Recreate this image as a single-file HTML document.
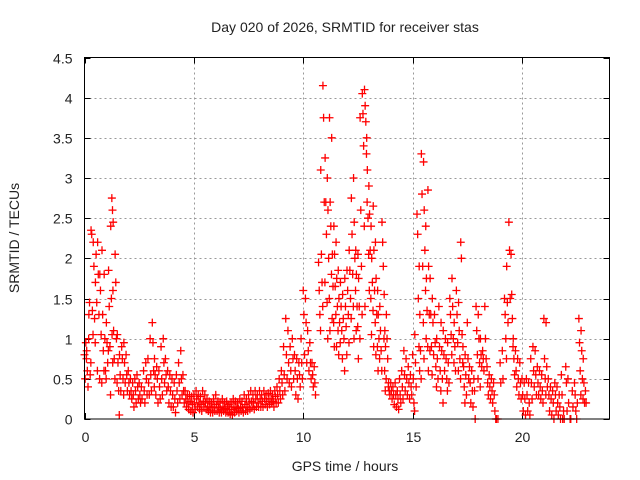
<!DOCTYPE html>
<html><head><meta charset="utf-8"><style>
html,body{margin:0;padding:0;background:#fff;}
svg{display:block;font-family:"Liberation Sans",sans-serif;}
</style></head><body>
<svg id="chart" width="640" height="480">
<text x="345" y="32" text-anchor="middle" font-size="14" fill="#222">Day 020 of 2026, SRMTID for receiver stas</text>
<text x="345" y="471" text-anchor="middle" font-size="14" fill="#222">GPS time / hours</text>
<text x="19" y="238" text-anchor="middle" font-size="14" fill="#222" transform="rotate(-90 19 238)">SRMTID / TECUs</text>
<g id="grid"></g>
<g id="ticks"></g>
<g id="pts"></g>
<rect x="84.5" y="57.5" width="525" height="361.5" fill="none" stroke="#000" stroke-width="1"/>
</svg>
<script>
const xTicks=[0,5,10,15,20];
const yTicks=[0,0.5,1,1.5,2,2.5,3,3.5,4,4.5];
const yTickLabels=["0","0.5","1","1.5","2","2.5","3","3.5","4","4.5"];
const hours=[0.0,0.1,0.2,0.3,0.4,0.5,0.6,0.7,0.8,0.9,1.0,1.1,1.2,1.25,1.3,1.4,1.5,1.6,1.7,1.8,1.9,2.0,2.1,2.2,2.3,2.4,2.5,2.6,2.7,2.8,2.9,3.0,3.1,3.2,3.3,3.4,3.5,3.6,3.7,3.8,3.9,4.0,4.1,4.2,4.3,4.4,4.5,4.6,4.7,4.8,4.9,5.0,5.1,5.2,5.3,5.4,5.5,5.6,5.7,5.8,5.9,6.0,6.1,6.2,6.3,6.4,6.5,6.6,6.7,6.8,6.9,7.0,7.1,7.2,7.3,7.4,7.5,7.6,7.7,7.8,7.9,8.0,8.1,8.2,8.3,8.4,8.5,8.6,8.7,8.8,8.9,9.0,9.1,9.2,9.3,9.4,9.5,9.6,9.7,9.8,9.9,10.0,10.1,10.2,10.3,10.4,10.5,10.7,10.8,10.9,11.0,11.1,11.2,11.3,11.4,11.5,11.6,11.7,11.8,11.9,12.0,12.1,12.2,12.3,12.4,12.5,12.6,12.7,12.8,12.9,13.0,13.1,13.2,13.3,13.4,13.5,13.6,13.7,13.8,13.9,14.0,14.1,14.2,14.3,14.4,14.5,14.6,14.7,14.8,14.9,15.0,15.1,15.2,15.3,15.4,15.5,15.6,15.7,15.8,15.9,16.0,16.1,16.2,16.3,16.4,16.5,16.6,16.7,16.8,16.9,17.0,17.1,17.2,17.3,17.4,17.5,17.6,17.7,17.8,17.9,18.0,18.1,18.2,18.3,18.4,18.5,18.6,18.7,18.8,18.9,19.0,19.1,19.2,19.3,19.4,19.5,19.6,19.7,19.8,19.9,20.0,20.1,20.2,20.3,20.4,20.5,20.6,20.7,20.8,20.9,21.0,21.1,21.2,21.3,21.4,21.5,21.6,21.7,21.8,21.9,22.0,22.1,22.2,22.3,22.4,22.5,22.6,22.7,22.8,22.9];
const tecu=[[0.8,0.5,0.95,0.75],[0.85,0.6,0.4,1.0],[1.3,1.45,0.55,0.7],[2.35,2.3,1.35,1.05],[2.2,1.9,1.25,0.95],[1.7,2.05,1.45,0.6],[2.2,1.8,1.3,0.5],[1.8,1.6,1.05,0.45],[2.1,1.3,0.85,0.6],[1.8,1.0,0.6,0.5],[1.2,0.95,0.7,0.85],[1.85,1.4,0.9,0.3],[2.4,1.5,1.05,0.7],[2.75,2.6,2.45],[1.6,1.1,0.75,0.5],[2.05,1.7,1.0,0.45],[1.05,0.7,0.35,0.05],[0.8,0.55,0.35],[0.9,0.75,0.5,0.3],[0.95,0.7,0.45],[0.8,0.55,0.35],[0.6,0.45,0.3],[0.5,0.35,0.25],[0.45,0.3,0.15],[0.5,0.35,0.2],[0.55,0.4,0.25],[0.45,0.3,0.2],[0.4,0.25],[0.6,0.35,0.2],[0.7,0.5,0.3],[0.75,0.45,0.3],[1.0,0.55,0.35],[1.2,0.95,0.6,0.4],[0.75,0.55,0.3],[0.65,0.5,0.2],[0.6,0.4,0.25],[0.9,0.5,0.3],[1.0,0.7,0.45],[0.75,0.55,0.35],[0.6,0.4,0.2],[0.55,0.35,0.15],[0.5,0.3,0.15],[0.45,0.25,0.08],[0.55,0.35,0.2],[0.7,0.45,0.25],[0.85,0.5,0.3],[0.55,0.35,0.2],[0.35,0.25,0.15],[0.3,0.2,0.12],[0.3,0.22,0.1],[0.28,0.18,0.08],[0.3,0.2,0.12],[0.35,0.25,0.15],[0.3,0.2,0.12],[0.28,0.18,0.1],[0.35,0.22,0.15],[0.3,0.2,0.12],[0.25,0.15,0.1],[0.22,0.15,0.08],[0.2,0.14,0.08],[0.25,0.15,0.1],[0.3,0.18,0.1],[0.22,0.14,0.08],[0.2,0.12,0.08],[0.25,0.15,0.1],[0.2,0.13,0.08],[0.22,0.15,0.08],[0.18,0.12,0.06],[0.2,0.12,0.05],[0.25,0.15,0.08],[0.22,0.14,0.1],[0.2,0.13,0.08],[0.25,0.15,0.1],[0.22,0.14,0.08],[0.3,0.18,0.1],[0.25,0.15,0.1],[0.3,0.2,0.12],[0.35,0.22,0.14],[0.3,0.2,0.12],[0.35,0.25,0.15],[0.3,0.2,0.15],[0.35,0.25,0.15],[0.3,0.22,0.15],[0.35,0.25,0.18],[0.3,0.22,0.15],[0.32,0.25,0.18],[0.35,0.25,0.2],[0.3,0.22,0.15],[0.35,0.28,0.2],[0.4,0.3,0.2],[0.5,0.35,0.25],[0.6,0.45,0.3],[0.9,0.55,0.35],[1.25,0.8,0.5],[1.1,0.7,0.45],[0.9,0.6,0.4],[1.0,0.75,0.5],[0.8,0.6,0.3],[0.75,0.5,0.25],[0.7,0.55,0.4],[1.0,0.7,0.5],[1.6,1.3,0.8],[1.5,1.2,0.7],[1.1,0.85,0.6],[0.95,0.7,0.5],[0.7,0.55,0.4],[0.65,0.45,0.3],[1.95,1.6,1.3,1.1],[3.1,2.05,1.7,1.4],[4.15,3.75,2.7,1.7],[3.25,2.7,2.3,1.45,1.0],[3.0,2.6,2.0,1.5,1.1],[3.75,2.7,2.4,1.8,1.25],[3.5,2.05,1.65,1.2,0.9],[2.4,2.05,1.65,1.3,0.9],[2.2,1.75,1.4,1.1,0.8],[1.85,1.5,1.2,0.95],[1.7,1.4,1.1,0.75],[1.55,1.25,1.0,0.6],[1.75,1.4,1.15,0.8],[1.85,1.6,1.3,0.95],[2.1,1.85,1.5,1.25],[2.75,2.3,1.8,1.4,1.0],[3.0,2.45,2.0,1.6,1.1],[2.1,1.8,1.4,1.15,0.75],[2.05,1.75,1.4,1.0],[3.75,2.6,1.9,1.3],[4.05,3.8,3.4,2.4,1.4],[4.1,3.9,3.7,3.3,2.7],[3.5,3.1,2.5,2.05,1.6],[2.9,2.55,2.1,1.5,1.05],[2.4,2.0,1.7,1.35,0.9],[2.65,2.1,1.6,1.2,0.8],[2.2,1.75,1.3,0.9,0.6],[1.6,1.3,1.0,0.75],[1.4,1.1,0.85,0.6],[2.45,2.2,1.9,1.0,0.6,0.35],[1.55,1.1,0.9,0.5],[1.3,1.0,0.75,0.4],[0.45,0.35,0.3],[0.45,0.35,0.25],[0.4,0.3,0.18],[0.45,0.3,0.15],[0.35,0.25,0.12],[0.5,0.3,0.2],[0.6,0.4,0.25],[0.85,0.55,0.35],[0.75,0.5,0.3],[0.65,0.45,0.25],[0.55,0.4,0.3],[0.8,0.5,0.2,0.1],[1.05,0.7,0.4],[2.55,2.3,1.5,0.9,0.6],[1.9,1.3,0.85,0.5],[3.3,2.8,1.9,1.2,0.75],[3.2,2.6,2.1,1.6,1.0],[2.4,1.75,1.35,0.9,0.6],[2.85,1.9,1.3,0.85],[1.75,1.3,0.9,0.55],[1.5,1.2,0.8],[1.3,0.95,0.65,0.4],[1.0,0.75,0.5],[1.4,0.9,0.6,0.35],[1.2,0.85,0.5,0.2],[1.1,0.8,0.6],[1.0,0.75,0.5,0.35],[0.95,0.7,0.45],[1.5,1.3,1.05,0.8],[1.75,1.4,1.0,0.7],[1.2,0.9,0.6],[1.6,1.3,0.95,0.6],[1.45,1.1,0.75,0.5],[2.2,2.0,1.05,0.7],[0.9,0.65,0.4,0.2],[0.8,0.55,0.3],[1.2,0.75,0.5],[0.65,0.45,0.2],[0.6,0.35,0.15],[0.5,0.35,0.0],[1.4,1.1,0.8,0.5],[1.3,1.0,0.7,0.4],[1.0,0.8,0.65],[0.85,0.75,0.6],[1.4,1.0,0.75],[0.65,0.45,0.3],[0.55,0.4,0.25],[0.5,0.35,0.2],[0.45,0.3,0.1],[0.0,0.0],[0.0],[0.7,0.45],[0.85,0.5],[1.5,1.3,1.0,0.75],[1.9,1.45,1.2],[2.45,2.1,1.5],[2.05,1.55,1.25,0.9],[1.0,0.75,0.55],[0.85,0.6,0.4],[0.75,0.5,0.3],[0.7,0.45,0.25],[0.5,0.3,0.1],[0.45,0.25,0.05],[0.5,0.3,0.1],[0.45,0.2,0.05],[0.75,0.45,0.25],[0.9,0.6,0.4],[0.85,0.55,0.3],[0.65,0.45,0.3],[0.6,0.4,0.25],[0.55,0.35,0.2],[1.25,0.75,0.5,0.3],[1.2,0.65,0.4],[0.5,0.3,0.1],[0.4,0.25,0.05],[0.35,0.2,0.0],[0.45,0.3,0.1],[0.4,0.2,0.05],[0.3,0.15,0.0],[0.55,0.3,0.0],[0.1,0.0],[0.65,0.45,0.1],[0.5,0.2],[0.0,0.0],[0.35,0.15],[0.45,0.3,0.1],[0.0,0.2],[1.25,0.95,0.6,0.3],[1.1,0.85,0.5,0.25],[0.75,0.45,0.2],[0.35,0.2]];
const NS="http://www.w3.org/2000/svg";
const L=84.5,R=609.5,T=57.5,B=419;
const xMin=0,xMax=24,yMin=0,yMax=4.5;
function sx(v){return L+(v-xMin)/(xMax-xMin)*(R-L);}
function sy(v){return B-(v-yMin)/(yMax-yMin)*(B-T);}
function mk(tag,attrs,parent){const e=document.createElementNS(NS,tag);for(const k in attrs)e.setAttribute(k,attrs[k]);parent.appendChild(e);return e;}
const grid=document.getElementById('grid'),ticks=document.getElementById('ticks'),pts=document.getElementById('pts');
xTicks.forEach(v=>{
  const x=Math.round(sx(v))+0.5;
  if(v>xMin){const g=mk('line',{x1:x,x2:x,y1:T,y2:B,stroke:'#999','stroke-dasharray':'2,3','stroke-width':1},grid);
  
  }
  mk('line',{x1:x,x2:x,y1:B,y2:B-6,stroke:'#000'},ticks);
  mk('line',{x1:x,x2:x,y1:T,y2:T+6,stroke:'#000'},ticks);
  const t=mk('text',{x:x,y:B+23,'text-anchor':'middle','font-size':14,fill:'#222'},ticks);
  t.textContent=String(v);
  
  
});
yTicks.forEach((v,i)=>{
  const y=Math.round(sy(v))+0.5;
  if(v>yMin&&v<yMax){const g=mk('line',{x1:L,x2:R,y1:y,y2:y,stroke:'#999','stroke-dasharray':'2,3','stroke-width':1},grid);
  
  }
  mk('line',{x1:L,x2:L+6,y1:y,y2:y,stroke:'#000'},ticks);
  mk('line',{x1:R,x2:R-6,y1:y,y2:y,stroke:'#000'},ticks);
  const t=mk('text',{x:L-12,y:y+5,'text-anchor':'end','font-size':14,fill:'#222'},ticks);
  t.textContent=yTickLabels[i];
  
  
});
hours.forEach((h,i)=>{
  (tecu[i]||[]).forEach((v,k)=>{
    const x=sx(h+k*0.03),y=sy(v);
    const p=mk('path',{d:`M${x-4},${y}H${x+4}M${x},${y-4}V${y+4}`,stroke:'#f00','stroke-width':1.3,fill:'none'},pts);
    
    
  });
});
</script>
</body></html>
